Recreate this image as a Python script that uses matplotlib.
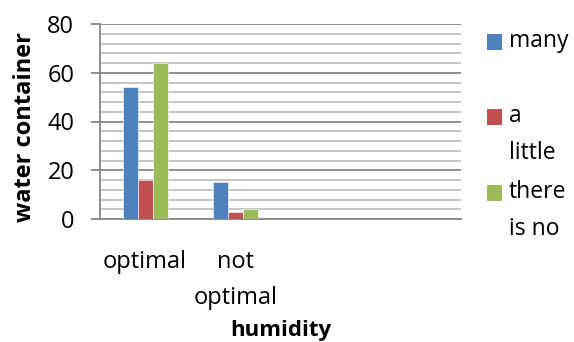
import matplotlib
matplotlib.use("Agg")
import matplotlib.pyplot as plt
from matplotlib.patches import Rectangle
import numpy as np

plt.rcParams['font.family'] = ['Open Sans', 'DejaVu Sans']

categories = ["optimal", "not\noptimal", "", ""]
series_names = ["many", "a\nlittle", "there\nis no"]
many = [54, 15, 0, 0]
a_little = [16, 3, 0, 0]
there_is_no = [64, 4, 0, 0]
series = [many, a_little, there_is_no]
colors = ["#4F81BD", "#C0504D", "#9BBB59"]

fig = plt.figure(figsize=(5.74, 3.42), dpi=100)
ax = fig.add_axes([100 / 574, 1 - 219 / 342, 361 / 574, 195 / 342])

x = np.arange(len(categories))
w = 0.167
for i, (vals, c) in enumerate(zip(series, colors)):
    ax.bar(x + (i - 1) * w, vals, width=w, color=c, edgecolor="white", linewidth=0.4, zorder=3)

ax.set_xlim(-0.5, len(categories) - 0.5)
ax.set_ylim(0, 80)
ax.set_yticks(range(0, 81, 20))
ax.set_yticks(range(0, 81, 4), minor=True)
ax.grid(which="minor", axis="y", color="#c0c0c0", linewidth=1.3, zorder=0)
ax.grid(which="major", axis="y", color="#868686", linewidth=1.3, zorder=1)
ax.tick_params(axis="y", which="major", length=6.5, width=1.3, color="#868686",
               labelsize=17, pad=12)
ax.tick_params(axis="y", which="minor", length=0)
ax.set_xticks(x)
ax.set_xticklabels(categories, linespacing=1.7)
ax.tick_params(axis="x", length=0, labelsize=17, pad=22)
for s in ["top", "right"]:
    ax.spines[s].set_visible(False)
ax.spines["left"].set_color("#868686")
ax.spines["left"].set_linewidth(1.3)
ax.spines["bottom"].set_color("#868686")
ax.spines["bottom"].set_linewidth(1.3)

fig.text(281 / 574, 1 / 342, "humidity", fontsize=16, fontweight="bold",
         ha="center", va="bottom")
fig.text(25 / 574, 1 - 127 / 342, "water container", fontsize=17, fontweight="bold",
         ha="center", va="center", rotation=90)

# legend drawn by hand, Excel-style wrapped labels
leg_y = [42, 117, 193]
for name, c, yy in zip(series_names, colors, leg_y):
    fig.add_artist(Rectangle((487 / 574, 1 - (yy + 8) / 342), 15 / 574, 16 / 342,
                             facecolor=c, edgecolor="none", transform=fig.transFigure))
    fig.text(509 / 574, 1 - (yy - 13) / 342, name, fontsize=16.5, ha="left", va="top",
             linespacing=1.7)

fig.savefig("out.png", dpi=100)
